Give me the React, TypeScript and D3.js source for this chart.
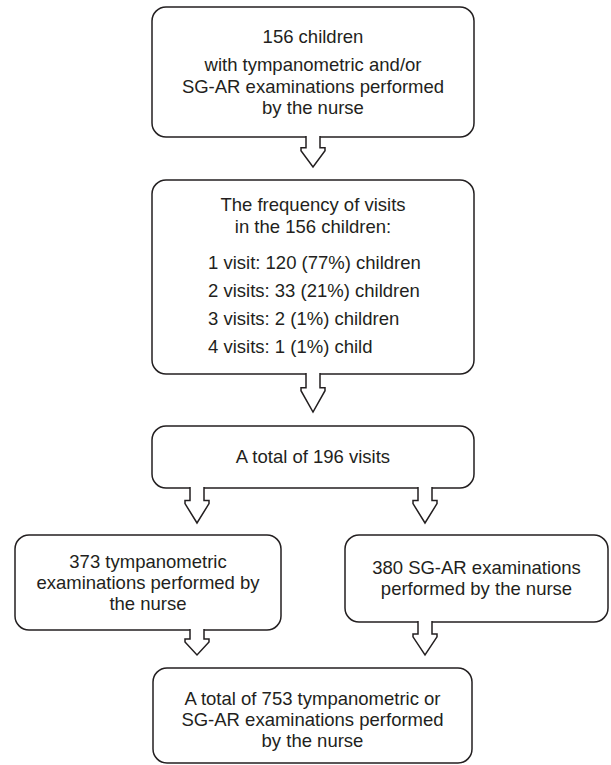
import React from 'react';
import * as d3 from 'd3';

// Text of each box, top to bottom
const boxTop = ['156 children', 'with tympanometric and/or', 'SG-AR examinations performed', 'by the nurse'];
const boxFreqHead = ['The frequency of visits', 'in the 156 children:'];
const visitCounts = [1, 2, 3, 4];
const visitChildren = [120, 33, 2, 1];
const visitPercent = [77, 21, 1, 1];
const boxVisits = ['A total of 196 visits'];
const boxTymp = ['373 tympanometric', 'examinations performed by', 'the nurse'];
const boxSgar = ['380 SG-AR examinations', 'performed by the nurse'];
const boxTotal = ['A total of 753 tympanometric or', 'SG-AR examinations performed', 'by the nurse'];

const visitLines = visitCounts.map((n, i) =>
  `${n} visit${n > 1 ? 's' : ''}: ${visitChildren[i]} (${visitPercent[i]}%) child${visitChildren[i] > 1 ? 'ren' : ''}`
);

const W = 611;
const H = 765;
const ink = '#231f20';
const font = '"Liberation Sans", Arial, sans-serif';
const fontSize = 18.5;

// rounded box outline
const roundedRect = (x0: number, y0: number, x1: number, y1: number, r: number) => {
  const p = d3.path();
  p.moveTo(x0 + r, y0);
  p.lineTo(x1 - r, y0);
  p.arcTo(x1, y0, x1, y0 + r, r);
  p.lineTo(x1, y1 - r);
  p.arcTo(x1, y1, x1 - r, y1, r);
  p.lineTo(x0 + r, y1);
  p.arcTo(x0, y1, x0, y1 - r, r);
  p.lineTo(x0, y0 + r);
  p.arcTo(x0, y0, x0 + r, y0, r);
  p.closePath();
  return p.toString();
};

// hollow block arrow hanging from a box bottom
const arrowPath = (cx: number, y0: number, tip: number) => {
  const stem = 7, head = 12;
  const h1 = y0 + (tip - y0) * 0.36;
  const h2 = h1 + 3;
  const line = d3.line();
  return line([
    [cx - stem, y0 - 1],
    [cx - stem, h1],
    [cx - head, h1],
    [cx - head, h2],
    [cx, tip],
    [cx + head, h2],
    [cx + head, h1],
    [cx + stem, h1],
    [cx + stem, y0 - 1],
  ]) as string;
};

type Box = { x0: number; x1: number; y0: number; y1: number; lines: string[]; ys: number[] };

const boxes: Box[] = [
  { x0: 152, x1: 474, y0: 7, y1: 137, lines: boxTop, ys: [37, 65, 87, 108] },
  { x0: 152, x1: 474, y0: 180, y1: 374, lines: [...boxFreqHead, ...visitLines], ys: [205, 227, 263, 291, 319, 347] },
  { x0: 152, x1: 474, y0: 426, y1: 488, lines: boxVisits, ys: [457] },
  { x0: 15, x1: 281, y0: 535, y1: 630, lines: boxTymp, ys: [562, 583, 604] },
  { x0: 345, x1: 608, y0: 535, y1: 622, lines: boxSgar, ys: [568, 589] },
  { x0: 153, x1: 472, y0: 668, y1: 763, lines: boxTotal, ys: [699, 720, 741] },
];

const arrows = [
  { cx: 313, y0: 137, tip: 167 },
  { cx: 313, y0: 374, tip: 412 },
  { cx: 197, y0: 488, tip: 523 },
  { cx: 425, y0: 488, tip: 523 },
  { cx: 197, y0: 630, tip: 655 },
  { cx: 425, y0: 622, tip: 655 },
];

export default function App() {
  return (
    <svg width={W} height={H} style={{ position: 'absolute', left: 0, top: 0, background: '#fff' }}>
      <rect width={W} height={H} fill="#fff" />
      {boxes.map((b, i) => (
        <g key={i}>
          <path d={roundedRect(b.x0, b.y0, b.x1, b.y1, 14)} fill="#fff" stroke={ink} strokeWidth={1.5} />
          {b.lines.map((t, j) => (
            <text
              key={j}
              x={i === 1 && j >= 2 ? 208 : (b.x0 + b.x1) / 2}
              y={b.ys[j]}
              dy="0.35em"
              textAnchor={i === 1 && j >= 2 ? 'start' : 'middle'}
              fontFamily={font}
              fontSize={fontSize}
              fill={ink}
            >
              {t}
            </text>
          ))}
        </g>
      ))}
      {arrows.map((a, i) => (
        <path key={i} d={arrowPath(a.cx, a.y0, a.tip)} fill="#fff" stroke={ink} strokeWidth={1.5} strokeLinejoin="miter" />
      ))}
    </svg>
  );
}
